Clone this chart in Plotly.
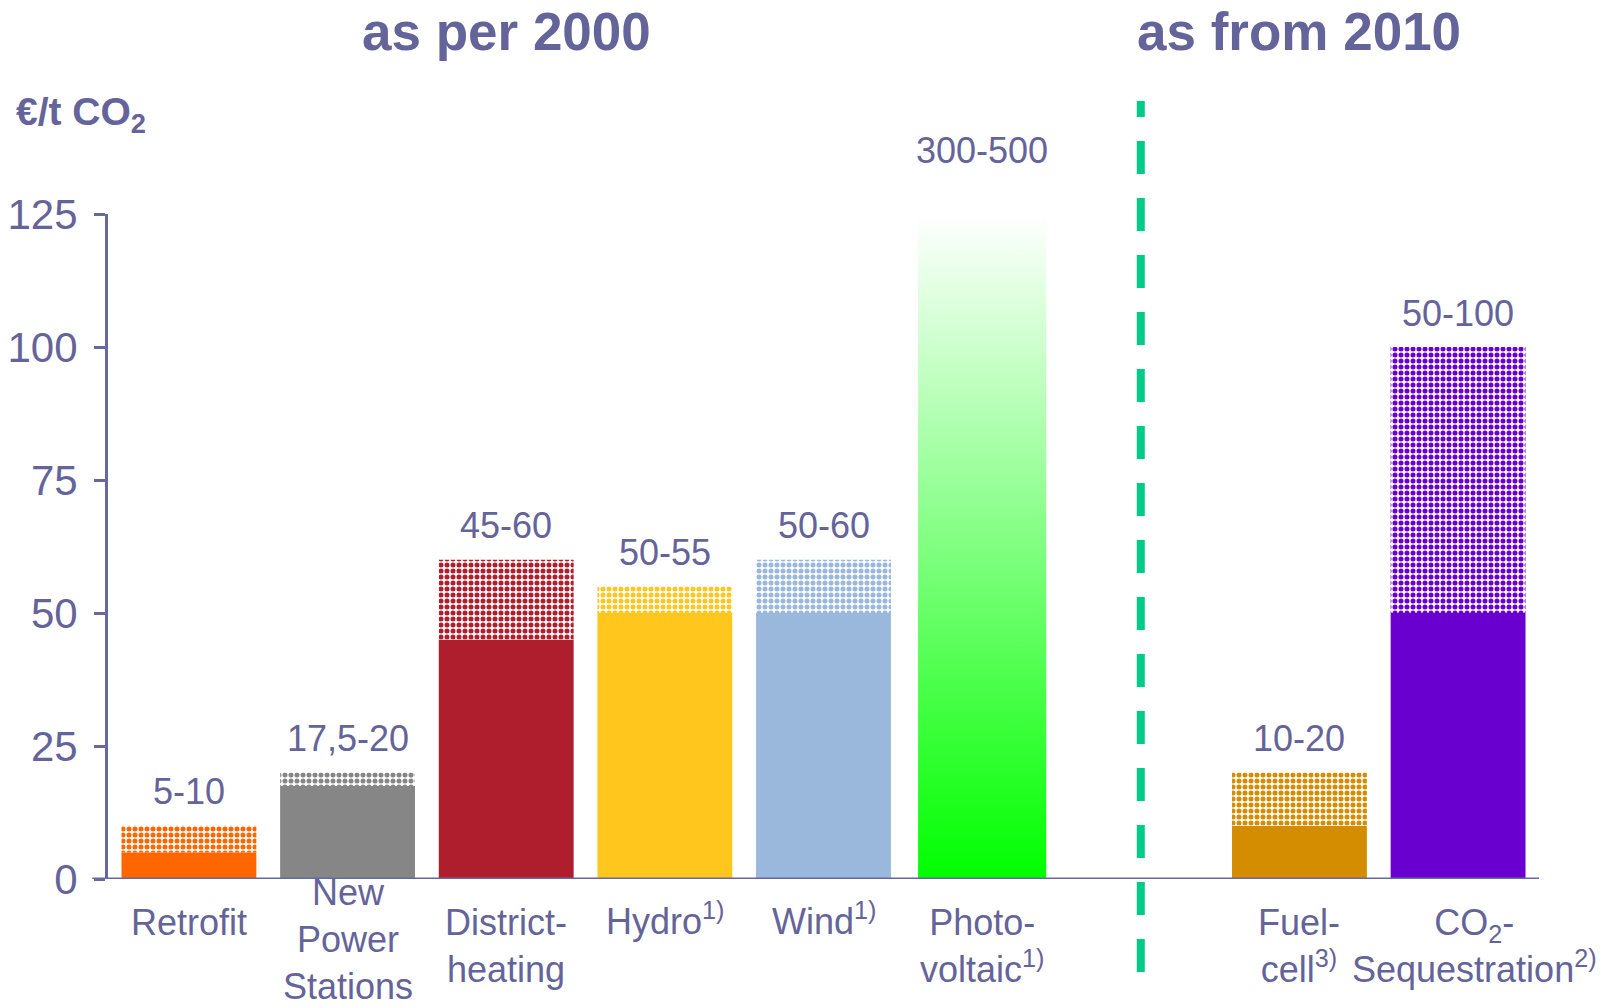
import plotly.graph_objects as go

# data
categories = ["Retrofit", "New<br>Power<br>Stations", "District-<br>heating", "Hydro<sup>1)</sup>",
              "Wind<sup>1)</sup>", "Photo-<br>voltaic<sup>1)</sup>", "Fuel-<br>cell<sup>3)</sup>",
              "CO<sub>2</sub>-<br>Sequestration<sup>2)</sup>"]
positions = [0, 1, 2, 3, 4, 5, 7, 8]
low = [5, 17.5, 45, 50, 50, 300, 10, 50]
high = [10, 20, 60, 55, 60, 500, 20, 100]
range_labels = ["5-10", "17,5-20", "45-60", "50-55", "50-60", "300-500", "10-20", "50-100"]
colors = ["#FF6600", "#868686", "#AE1E2D", "#FFC61E", "#99B8DC", "#00FF00", "#D48C00", "#6A00D0"]
yticks = [0, 25, 50, 75, 100, 125]
y_max = 125
gradient_idx = 5  # photovoltaic is off the scale -> drawn as a fading bar

TXT = "#64649A"
AX = "#6868A0"
FONT = "Arial, Liberation Sans, sans-serif"
bar_w = 0.85

fig = go.Figure()

solid_x = [p for i, p in enumerate(positions) if i != gradient_idx]
solid_y = [v for i, v in enumerate(low) if i != gradient_idx]
solid_c = [c for i, c in enumerate(colors) if i != gradient_idx]
hatch_y = [h - l for i, (l, h) in enumerate(zip(low, high)) if i != gradient_idx]

fig.add_trace(go.Bar(x=solid_x, y=solid_y, width=bar_w, marker=dict(color=solid_c, line_width=0)))
fig.add_trace(go.Bar(
    x=solid_x, y=hatch_y, base=solid_y, width=bar_w,
    marker=dict(color="white", line_width=0,
                pattern=dict(shape=".", fgcolor=solid_c, bgcolor="white",
                             size=6, solidity=0.55, fillmode="replace")),
))

# photovoltaic: gradient bar up to the top of the axis
px = positions[gradient_idx]
top = min(high[gradient_idx], y_max)
hw = bar_w / 2 * 0.95
fig.add_trace(go.Scatter(
    x=[px - hw, px - hw, px + hw, px + hw],
    y=[0, top, top, 0],
    mode="lines", line_width=0, fill="toself",
    fillgradient=dict(type="vertical", colorscale=[[0, "#00FF00"], [0.5, "#80FF80"], [1, "#FFFFFF"]]),
    hoverinfo="skip",
))

# range labels above bars
for i, (p, h, t) in enumerate(zip(positions, high, range_labels)):
    fig.add_annotation(x=p, y=min(h, y_max), text=t, showarrow=False,
                       yanchor="middle", yshift=64 if i == gradient_idx else 34,
                       font=dict(size=36, color=TXT, family=FONT))

# category labels below axis
for i, (p, c) in enumerate(zip(positions, categories)):
    n = c.count("<br>") + 1
    shift = -21 if n < 3 else 9
    if n == 1 and "<sup>" in c:
        shift += 6
    fig.add_annotation(x=p, y=0, text=c, showarrow=False, yanchor="top",
                       yshift=shift, xshift=16 if i == len(categories) - 1 else 0,
                       align="center", font=dict(size=36, color=TXT, family=FONT))

# headings
fig.add_annotation(x=2, y=1.275, yref="paper", yanchor="middle", text="<b>as per 2000</b>",
                   showarrow=False, font=dict(size=53, color=TXT, family=FONT))
fig.add_annotation(x=7, y=1.275, yref="paper", yanchor="middle", text="<b>as from 2010</b>",
                   showarrow=False, font=dict(size=53, color=TXT, family=FONT))
fig.add_annotation(x=-0.066, xref="paper", xanchor="left", y=1.15, yref="paper", yanchor="middle",
                   text="<b>€/t CO<sub>2</sub></b>", showarrow=False,
                   font=dict(size=39, color=TXT, family=FONT))

# separator
fig.add_shape(type="line", x0=6, x1=6, y0=-0.14, y1=1.17, yref="paper",
              line=dict(color="#00CC88", width=8, dash="33px,24px"))
# x axis line (extends a bit left of y axis)
fig.add_shape(type="line", x0=-0.011, x1=1, xref="paper", y0=0, y1=0,
              line=dict(color=AX, width=3), layer="above")

fig.update_layout(
    width=1604, height=992,
    margin=dict(l=100, r=73, t=206, b=121, autoexpand=False),
    plot_bgcolor="white", paper_bgcolor="white",
    barmode="overlay", showlegend=False,
    xaxis=dict(range=[-0.51, 8.51], showticklabels=False, showgrid=False, zeroline=False,
               showline=False, ticks="", automargin=False),
    yaxis=dict(range=[0, y_max], tickvals=yticks, showgrid=False, zeroline=False, automargin=False,
               showline=True, linecolor=AX, linewidth=3,
               ticks="outside", ticklen=11, tickwidth=2.5, tickcolor=AX, ticklabelstandoff=8,
               tickfont=dict(size=42, color=TXT, family=FONT)),
)

fig.write_html("out.html")
